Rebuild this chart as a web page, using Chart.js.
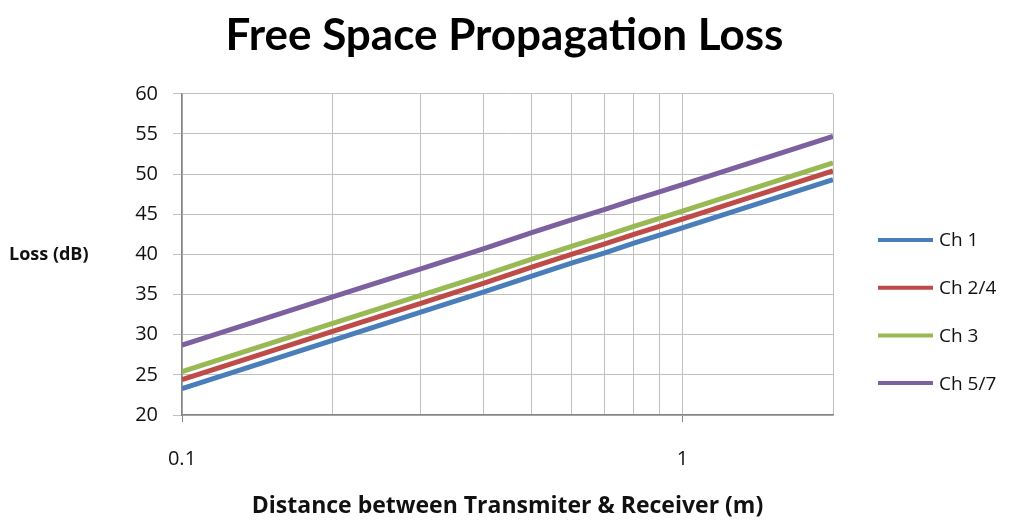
<!DOCTYPE html>
<html>
<head>
<meta charset="utf-8">
<script src="https://cdn.jsdelivr.net/npm/chart.js@4.4.1/dist/chart.umd.min.js"></script>
<style>
  html, body { margin: 0; padding: 0; background: #fff; }
  #wrap { width: 1009px; height: 520px; }
</style>
</head>
<body>
<div id="wrap"><canvas id="lossChart"></canvas></div>
<script>
// jarak (m)
const jarak = [0.1, 0.2, 0.3, 0.4, 0.5, 0.6, 0.7, 0.8, 0.9, 1, 2];

// loss tiap channel (dB)
const lossCh1 = [23.3, 29.3, 32.8, 35.3, 37.3, 38.9, 40.2, 41.4, 42.4, 43.3, 49.3];
const lossCh24 = [24.4, 30.4, 33.9, 36.4, 38.4, 40.0, 41.3, 42.5, 43.5, 44.4, 50.4];
const lossCh3 = [25.4, 31.4, 34.9, 37.4, 39.4, 41.0, 42.3, 43.5, 44.5, 45.4, 51.4];
const lossCh57 = [28.7, 34.7, 38.2, 40.7, 42.7, 44.3, 45.6, 46.8, 47.8, 48.7, 54.7];

const namaSeri = ["Ch 1", "Ch 2/4", "Ch 3", "Ch 5/7"];
const warnaSeri = ["#4a7ebb", "#be4b48", "#98b954", "#7d60a0"];
const labelSumbuX = [0.1, 1];

const font = "'Open Sans', Lato, sans-serif";
const fontJudul = "Lato, 'Open Sans', sans-serif";

function buatSeri(nilai) {
  return jarak.map((x, i) => ({ x: x, y: nilai[i] }));
}

const semuaSeri = [lossCh1, lossCh24, lossCh3, lossCh57];

// judul sumbu y horisontal + legend di kanan
const tulisanTambahan = {
  id: "tulisanTambahan",
  afterDraw(chart) {
    const ctx = chart.ctx;
    const area = chart.chartArea;
    ctx.save();
    ctx.fillStyle = "#111";
    ctx.font = "bold 18px " + font;
    ctx.textAlign = "left";
    ctx.textBaseline = "middle";
    ctx.fillText("Loss (dB)", 9, (area.top + area.bottom) / 2);

    ctx.font = "19px " + font;
    chart.data.datasets.forEach((ds, i) => {
      const y = 240 + i * 47.7;
      ctx.strokeStyle = ds.borderColor;
      ctx.lineWidth = 4;
      ctx.beginPath();
      ctx.moveTo(area.right + 45, y);
      ctx.lineTo(area.right + 100, y);
      ctx.stroke();
      ctx.fillStyle = "#111";
      ctx.fillText(ds.label, area.right + 106, y + 1);
    });
    ctx.restore();
  },
};

new Chart(document.getElementById("lossChart"), {
  type: "line",
  data: {
    datasets: semuaSeri.map((nilai, i) => ({
      label: namaSeri[i],
      data: buatSeri(nilai),
      borderColor: warnaSeri[i],
      backgroundColor: warnaSeri[i],
      borderWidth: 5,
      pointRadius: 0,
      tension: 0,
    })),
  },
  options: {
    responsive: true,
    maintainAspectRatio: false,
    animation: false,
    layout: { padding: 0 },
    plugins: {
      legend: { display: false },
      tooltip: { enabled: false },
      title: {
        display: true,
        text: "Free Space Propagation Loss",
        color: "#000",
        font: { family: fontJudul, size: 44, weight: "bold" },
        padding: { top: 9, bottom: 32 },
      },
    },
    scales: {
      x: {
        type: "logarithmic",
        min: 0.1,
        max: 2,
        border: { display: true, color: "#868686", width: 1.5 },
        grid: {
          color: "#c0c0c0",
          lineWidth: 1,
          drawTicks: true,
          tickLength: 7,
          tickColor: c => (labelSumbuX.includes(c.tick && c.tick.value) ? "#868686" : "rgba(0,0,0,0)"),
        },
        ticks: {
          autoSkip: false,
          maxRotation: 0,
          padding: 25,
          color: "#111",
          font: { family: font, size: 20 },
          callback: v => (labelSumbuX.includes(v) ? String(v) : ""),
        },
        afterBuildTicks(s) {
          // antara 1 dan 2 tidak ada garis bantu
          s.ticks = s.ticks.filter(t => t.value <= 1 || t.value >= 2);
        },
        title: {
          display: true,
          text: "Distance between Transmiter & Receiver (m)",
          color: "#111",
          font: { family: font, size: 23, weight: "bold" },
          padding: { top: 0, bottom: 0 },
        },
        afterFit(s) {
          s.height = 105;
        },
      },
      y: {
        min: 20,
        max: 60,
        border: { display: true, color: "#868686", width: 1.5 },
        grid: {
          color: "#c0c0c0",
          lineWidth: 1,
          tickLength: 9,
          tickColor: "#c0c0c0",
        },
        ticks: {
          stepSize: 5,
          padding: 15,
          color: "#111",
          font: { family: font, size: 20 },
        },
        afterFit(s) {
          s.width = 182;
        },
      },
      kanan: {
        position: "right",
        display: true,
        grid: { display: false },
        border: { display: false },
        ticks: { display: false },
        afterFit(s) {
          s.width = 176;
        },
      },
    },
  },
  plugins: [tulisanTambahan],
});
</script>
</body>
</html>
